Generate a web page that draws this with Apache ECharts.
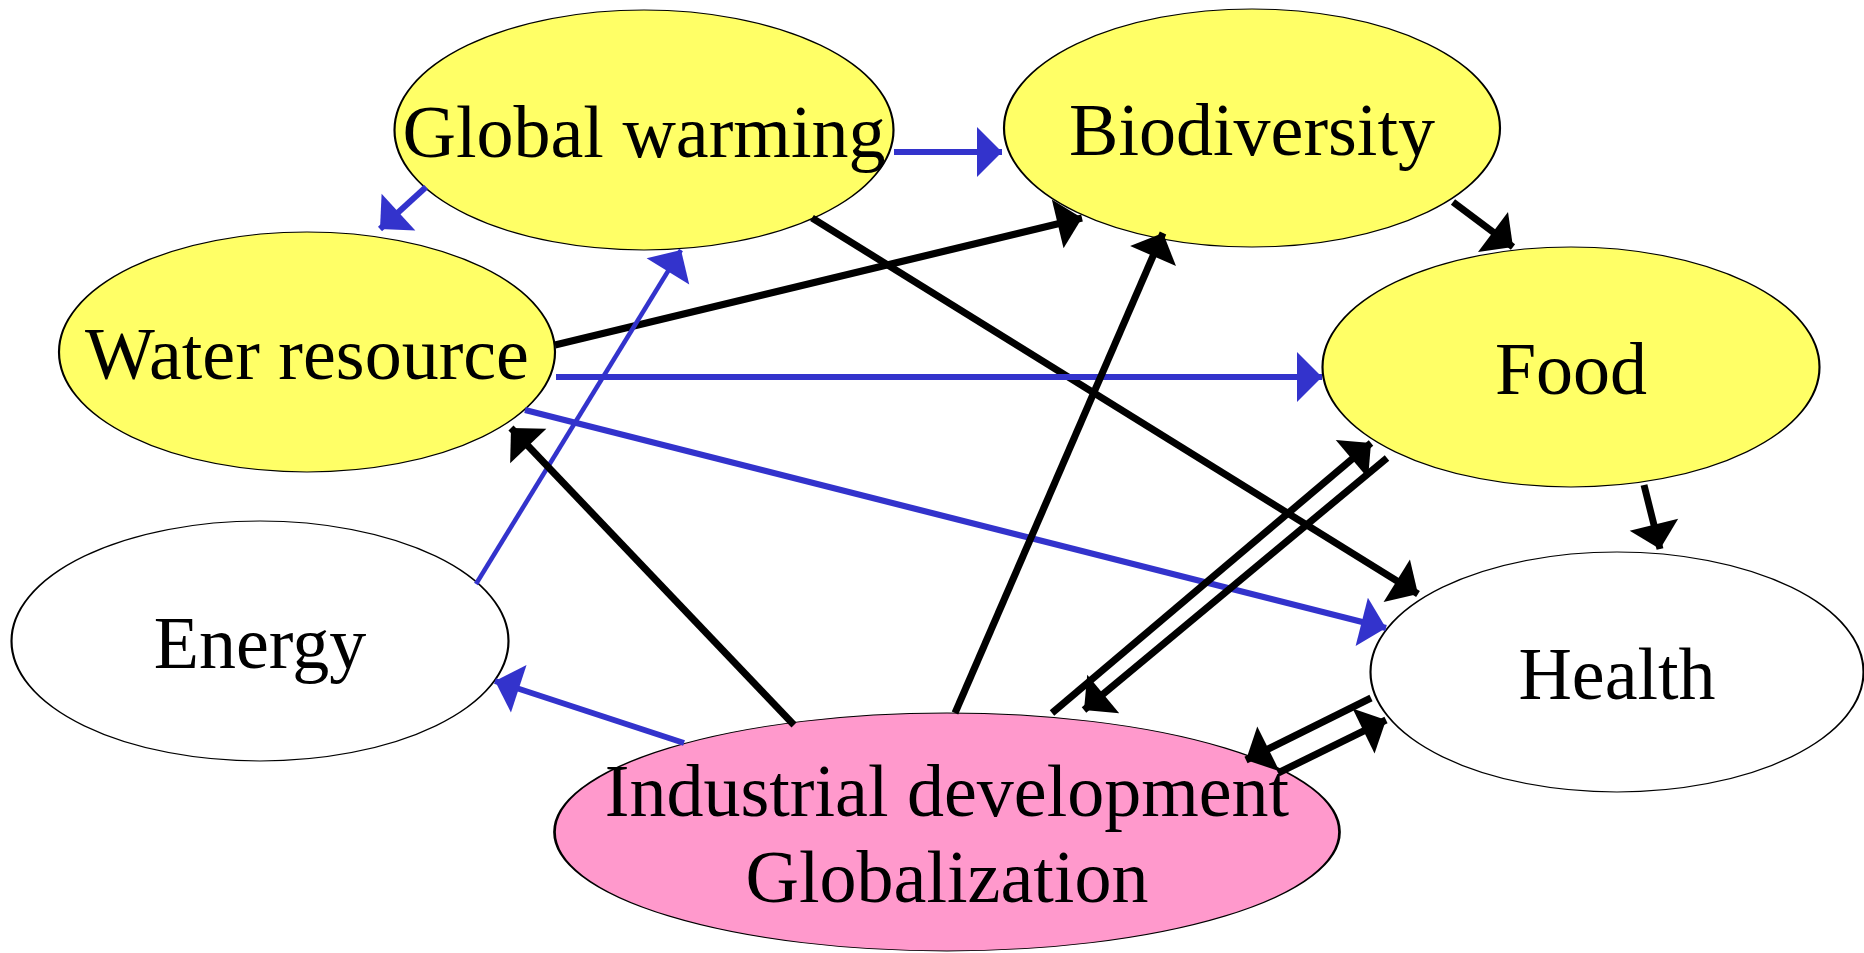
<!DOCTYPE html>
<html>
<head>
<meta charset="utf-8">
<script src="https://cdn.jsdelivr.net/npm/echarts@6/dist/echarts.min.js"></script>
<style>
html, body { margin: 0; padding: 0; background: #fff; }
#chart { width: 1864px; height: 953px; }
</style>
</head>
<body>
<div id="chart"></div>
<script>
// nodes of the diagram
const nodeNames = ['Global warming', 'Biodiversity', 'Water resource', 'Food', 'Energy', 'Health', 'Industrial development\nGlobalization'];
const nodeCenters = [[644, 130], [1252, 128], [307, 352], [1571, 367], [260, 641], [1617, 672], [947, 832]];
const nodeSizes = [[499, 240], [496, 238], [496, 240], [497, 240], [497, 240], [493, 240], [785, 238]];
const nodeColors = ['#ffff66', '#ffff66', '#ffff66', '#ffff66', '#ffffff', '#ffffff', '#ff99cc'];

// edges: source, target, colour kind
const edges = [
  ['Global warming', 'Biodiversity', 'blue'],
  ['Global warming', 'Water resource', 'blue'],
  ['Global warming', 'Health', 'black'],
  ['Biodiversity', 'Food', 'black'],
  ['Water resource', 'Biodiversity', 'black'],
  ['Water resource', 'Food', 'blue'],
  ['Water resource', 'Health', 'blue'],
  ['Energy', 'Global warming', 'blueThin'],
  ['Food', 'Health', 'black'],
  ['Industrial', 'Water resource', 'black'],
  ['Industrial', 'Biodiversity', 'black'],
  ['Industrial', 'Food', 'black'],
  ['Food', 'Industrial', 'black'],
  ['Health', 'Industrial', 'black'],
  ['Industrial', 'Health', 'black'],
  ['Industrial', 'Energy', 'blue']
];
// start point, arrow tip
const edgeCoords = [
  [[894, 152], [1002, 152]],
  [[426, 187], [380, 229]],
  [[812, 218], [1418, 594]],
  [[1453, 202], [1513, 247]],
  [[555, 345], [1082, 218]],
  [[556, 377], [1322, 377]],
  [[525, 410], [1386, 628]],
  [[476, 584], [681, 250]],
  [[1644, 485], [1660, 549]],
  [[794, 725], [511, 428]],
  [[955, 713], [1163, 233]],
  [[1052, 713], [1371, 443]],
  [[1387, 458], [1084, 710]],
  [[1371, 698], [1246, 760]],
  [[1278, 773], [1386, 720]],
  [[684, 743], [495, 681]]
];

const edgeStyle = {
  black: { color: '#000000', width: 7 },
  blue: { color: '#3333cc', width: 6 },
  blueThin: { color: '#3333cc', width: 4.5 }
};

// ellipse outline (stretched to symbolSize)
const ellipsePath = 'path://M0,50 A50,50 0 1,1 100,50 A50,50 0 1,1 0,50 Z';
// triangle whose tip sits at the symbol centre
const arrowPath = 'path://M0,0 L0,0 M0,20 L10,40 L-10,40 Z';

let container = echarts.init(document.getElementById('chart'));

let option = {
  animation: false,
  backgroundColor: '#ffffff',
  grid: { left: 0, right: 0, top: 0, bottom: 0 },
  xAxis: { type: 'value', min: 0, max: 1864, show: false },
  yAxis: { type: 'value', min: 0, max: 953, inverse: true, show: false },
  series: [
    {
      type: 'scatter',
      z: 1,
      symbol: ellipsePath,
      data: nodeNames.map((name, i) => ({
        name: name,
        value: nodeCenters[i],
        symbolSize: nodeSizes[i],
        itemStyle: { color: nodeColors[i], borderColor: '#000', borderWidth: 1.5, opacity: 1 }
      })),
      label: {
        show: true,
        position: 'inside',
        offset: [0, 8],
        formatter: p => p.name,
        fontFamily: 'Liberation Serif',
        fontSize: 74,
        lineHeight: 86,
        color: '#000'
      }
    },
    {
      type: 'lines',
      coordinateSystem: 'cartesian2d',
      z: 3,
      symbol: ['none', arrowPath],
      symbolSize: [24, 50],
      data: edges.map((e, i) => ({
        name: e[0] + ' -> ' + e[1],
        coords: edgeCoords[i],
        lineStyle: { color: edgeStyle[e[2]].color, width: edgeStyle[e[2]].width, opacity: 1 }
      }))
    }
  ]
};

container.setOption(option);
</script>
</body>
</html>
